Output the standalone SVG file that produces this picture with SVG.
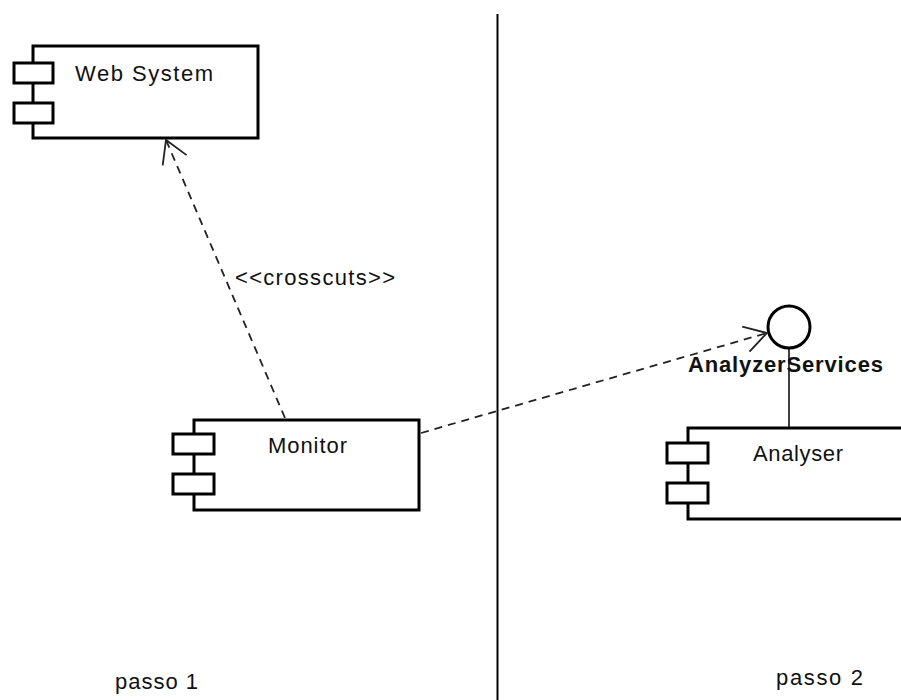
<svg xmlns="http://www.w3.org/2000/svg" width="901" height="700" viewBox="0 0 901 700">
<style>
.box{fill:#fff;stroke:#000;stroke-width:3}
.tab{fill:#fff;stroke:#000;stroke-width:3}
.lbl{font-family:"Liberation Sans","DejaVu Sans",Arial,sans-serif;font-size:22px;fill:#111}
.bold{font-weight:bold}
.dash{fill:none;stroke:#222;stroke-width:1.8;stroke-dasharray:8 6}
</style>
<defs>
<marker id="open" markerUnits="userSpaceOnUse" viewBox="-26 -16 30 32" markerWidth="30" markerHeight="32" refX="0" refY="0" orient="auto">
<path d="M -22 -13 L 0 0 L -22 13" fill="none" stroke="#222" stroke-width="1.8"/>
</marker>
</defs>
<rect width="901" height="700" fill="#fff"/>
<line x1="497.5" y1="14" x2="497.5" y2="700" stroke="#000" stroke-width="2"/>
<g id="web-system">
<rect class="box" x="33" y="46" width="225" height="92"/>
<rect class="tab" x="14" y="63" width="39" height="20"/>
<rect class="tab" x="14" y="103" width="39" height="20"/>
<text class="lbl" x="75" y="81" textLength="138" lengthAdjust="spacing">Web System</text>
</g>
<g id="monitor">
<rect class="box" x="194" y="420" width="225" height="90"/>
<rect class="tab" x="173" y="434" width="41" height="20"/>
<rect class="tab" x="173" y="474" width="41" height="20"/>
<text class="lbl" x="268" y="453" textLength="79" lengthAdjust="spacing">Monitor</text>
</g>
<g id="analyser">
<rect class="box" x="688" y="428" width="230" height="91"/>
<rect class="tab" x="667" y="443" width="41" height="20"/>
<rect class="tab" x="667" y="483" width="41" height="20"/>
<text class="lbl" x="753" y="461" textLength="90" lengthAdjust="spacing">Analyser</text>
</g>
<g id="analyzer-services">
<line x1="789" y1="348" x2="789" y2="428" stroke="#000" stroke-width="1.5"/>
<circle cx="789" cy="327" r="21" fill="#fff" stroke="#000" stroke-width="3"/>
<text class="lbl bold" x="688" y="372" textLength="195" lengthAdjust="spacing">AnalyzerServices</text>
</g>
<g id="connectors">
<line class="dash" x1="285" y1="418" x2="166" y2="140" marker-end="url(#open)"/>
<line class="dash" x1="421" y1="433" x2="767" y2="333" marker-end="url(#open)"/>
<text class="lbl" x="235" y="285" textLength="160" lengthAdjust="spacing">&lt;&lt;crosscuts&gt;&gt;</text>
</g>
<g id="labels">
<text class="lbl" x="115" y="689" textLength="83" lengthAdjust="spacing">passo 1</text>
<text class="lbl" x="776" y="685" textLength="87" lengthAdjust="spacing">passo 2</text>
</g>
</svg>
